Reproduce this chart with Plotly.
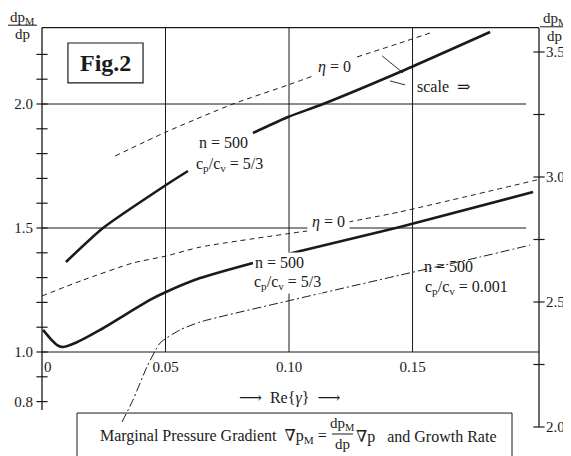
import plotly.graph_objects as go

# ---------------- data ----------------
# Upper pair of curves: read on the RIGHT scale ("scale =>")
x_eta0_upper = [0.0296, 0.0502, 0.0773, 0.0996, 0.1097, None, 0.1275, 0.1449, 0.1583]
r_eta0_upper = [3.084, 3.180, 3.292, 3.368, 3.404, None, 3.480, 3.536, 3.580]

x_n500_upper = [0.0097, 0.0247, 0.0502, 0.0591, None, 0.0854, 0.0996, 0.1138, 0.1449, 0.1814]
r_n500_upper = [2.660, 2.796, 2.968, 3.024, None, 3.176, 3.240, 3.292, 3.420, 3.580]

# Lower curves: read on the LEFT scale
x_eta0_lower = [0.0, 0.0166, 0.0368, 0.0502, 0.0640, 0.1073, None, 0.1239, 0.1449, 0.2004]
y_eta0_lower = [1.226, 1.290, 1.359, 1.387, 1.423, 1.488, None, 1.524, 1.565, 1.694]

x_n500_lower = [0.0004, 0.0032, 0.0061, 0.0085, 0.0134, 0.0235, 0.0437, 0.0502, 0.0640, 0.0854,
                None, 0.0996, 0.1449, 0.1988]
y_n500_lower = [1.089, 1.056, 1.028, 1.020, 1.036, 1.089, 1.210, 1.242, 1.298, 1.359,
                None, 1.395, 1.504, 1.645]

x_n500_cp001 = [0.0324, 0.0368, 0.0425, 0.0478, 0.0559, 0.0640, 0.0996, 0.1449, 0.1773, 0.1976]
y_n500_cp001 = [0.718, 0.806, 0.940, 1.036, 1.089, 1.121, 1.206, 1.310, 1.383, 1.431]

# axes / ticks
x_tick_vals = [0.0, 0.05, 0.10, 0.15]
x_tick_text = ["\u00a0\u00a0\u00a00", "0.05", "0.10", "0.15"]
left_tick_vals = [0.8, 1.0, 1.5, 2.0]
left_tick_text = ["0.8", "1.0", "1.5", "2.0"]
left_minor_ticks = [0.8, 0.9, 1.0, 1.1, 1.2, 1.3, 1.4, 1.5, 1.6, 1.7, 1.8, 1.9, 2.0, 2.1, 2.2]
right_tick_vals = [2.0, 2.5, 3.0, 3.5]
right_tick_text = ["2.0", "2.5", "3.0", "3.5"]
right_minor_ticks = [2.0, 2.25, 2.5, 2.75, 3.0, 3.25, 3.5]
grid_x = [0.05, 0.10, 0.15]
grid_y = [1.5, 2.0]

# ---------------- style ----------------
FONT = "Liberation Serif, DejaVu Serif, DejaVu Sans, serif"
INK = "#1a1a1a"
X_RANGE = [-0.00081, 0.2016]
Y_RANGE = [0.6855, 2.3145]
Y2_RANGE = [1.988, 3.604]
X_RIGHT = 0.2012      # right axis position
Y_TOP = 2.308         # top frame line
Y_BASE = 1.0          # x-axis line
Y_LEFT_END = 0.766    # bottom end of left axis line
X_GRID_END = 0.196

# the page body adds an 8px offset; the figure is sized to fill the rest of the window
BODY_OFFSET = 8

fig = go.Figure()

def curve(x, y, width, dash, axis="y"):
    fig.add_trace(go.Scatter(
        x=x, y=y, yaxis=axis, mode="lines", connectgaps=False,
        line=dict(color=INK, width=width, dash=dash, shape="spline", smoothing=0.6),
        hoverinfo="skip", showlegend=False))

curve(x_eta0_upper, r_eta0_upper, 1.0, "5px,4px", "y2")
curve(x_n500_upper, r_n500_upper, 2.6, "solid", "y2")
curve(x_eta0_lower, y_eta0_lower, 1.0, "5px,4px")
curve(x_n500_lower, y_n500_lower, 2.6, "solid")
curve(x_n500_cp001, y_n500_cp001, 1.0, "9px,3px,2px,3px")

# crossing tick marks
fig.add_trace(go.Scatter(
    x=[0.0] * len(left_minor_ticks), y=left_minor_ticks, mode="markers", cliponaxis=False,
    marker=dict(symbol="line-ew", size=8, line=dict(color=INK, width=1.2)),
    hoverinfo="skip", showlegend=False))
fig.add_trace(go.Scatter(
    x=[X_RIGHT] * len(right_minor_ticks), y=right_minor_ticks, yaxis="y2", mode="markers",
    cliponaxis=False,
    marker=dict(symbol="line-ew", size=8, line=dict(color=INK, width=1.2)),
    hoverinfo="skip", showlegend=False))

shapes = []
def hline(y, x0, x1, w=1.0, yref="y"):
    shapes.append(dict(type="line", xref="x", yref=yref, x0=x0, x1=x1, y0=y, y1=y,
                       line=dict(color=INK, width=w), layer="below"))
def vline(x, y0, y1, w=1.0, yref="y"):
    shapes.append(dict(type="line", xref="x", yref=yref, x0=x, x1=x, y0=y0, y1=y1,
                       line=dict(color=INK, width=w), layer="below"))

hline(Y_TOP, 0.0, X_RIGHT, 1.2)
hline(Y_BASE, 0.0, X_RIGHT, 1.2)
vline(0.0, Y_LEFT_END, Y_TOP, 1.3)
vline(X_RIGHT, right_minor_ticks[0], Y2_RANGE[1] - 0.008, 1.3, "y2")
for gx in grid_x:
    vline(gx, Y_BASE, Y_TOP, 1.0)
for gy in grid_y:
    hline(gy, 0.0, X_GRID_END, 1.0)

# "scale" pointer strokes
shapes.append(dict(type="line", xref="x", yref="y", x0=0.1377, y0=2.194, x1=0.1462, y1=2.125,
                   line=dict(color=INK, width=0.9)))
shapes.append(dict(type="line", xref="x", yref="y", x0=0.1409, y0=2.093, x1=0.1470, y1=2.077,
                   line=dict(color=INK, width=0.9)))

# Fig.2 frame
shapes.append(dict(type="rect", xref="x", yref="y", x0=0.0105, x1=0.0409, y0=2.085, y1=2.246,
                   line=dict(color=INK, width=1.2), fillcolor="white", layer="below"))

# bottom caption box
shapes.append(dict(type="rect", xref="paper", yref="paper", x0=0.074, x1=0.944, y0=-0.12, y1=0.042,
                   line=dict(color=INK, width=1.0), fillcolor="rgba(0,0,0,0)", layer="above"))
# fraction bars for titles / caption
shapes.append(dict(type="line", xref="paper", yref="paper", x0=-0.066, x1=-0.006, y0=1.002, y1=1.002,
                   line=dict(color=INK, width=1.0)))
shapes.append(dict(type="line", xref="paper", yref="paper", x0=1.0, x1=1.062, y0=0.998, y1=0.998,
                   line=dict(color=INK, width=1.0)))
shapes.append(dict(type="line", xref="paper", yref="paper", x0=0.584, x1=0.626, y0=-0.0099, y1=-0.0099,
                   line=dict(color=INK, width=1.0)))

ann = []
def label(text, x, y, size=16, yref="y", xref="x", bg="white", xanchor="center", pad=1, **kw):
    ann.append(dict(text=text, x=x, y=y, xref=xref, yref=yref, showarrow=False,
                    xanchor=xanchor, yanchor="middle",
                    font=dict(family=FONT, size=size, color=INK),
                    bgcolor=bg, borderpad=pad, **kw))

label("<i>η</i> = 0", 0.1186, 2.149, pad=3)
label("scale  ⇒", 0.1625, 2.072, pad=2)
label("n = 500", 0.0733, 1.843, bg="rgba(0,0,0,0)")
label("c<sub>p</sub>/c<sub>v</sub> = 5/3", 0.0760, 1.758, bg="rgba(0,0,0,0)")
label("<i>η</i> = 0", 0.1158, 1.524, pad=4)
label("n = 500", 0.0960, 1.359, pad=1)
label("c<sub>p</sub>/c<sub>v</sub> = 5/3", 0.0992, 1.282, pad=1)
label("n = 500", 0.1644, 1.343, bg="rgba(0,0,0,0)")
label("c<sub>p</sub>/c<sub>v</sub> = 0.001", 0.1720, 1.262, bg="rgba(0,0,0,0)")
label("<b>Fig.2</b>", 0.0257, 2.165, size=24, bg="rgba(0,0,0,0)")
label("⟶  Re{<i>γ</i>}  ⟶", 0.1000, 0.8145, size=16, bg="rgba(0,0,0,0)")

# axis titles (fractions)
label("dp<sub>M</sub>", -0.036, 1.021, xref="paper", yref="paper", size=15, bg="rgba(0,0,0,0)")
label("dp", -0.036, 0.979, xref="paper", yref="paper", size=15, bg="rgba(0,0,0,0)")
label("dp<sub>M</sub>", 1.030, 1.017, xref="paper", yref="paper", size=15, bg="rgba(0,0,0,0)")
label("dp", 1.028, 0.975, xref="paper", yref="paper", size=15, bg="rgba(0,0,0,0)")

# caption
label("Marginal Pressure Gradient  ∇p<sub>M</sub> =", 0.577, -0.0173, xref="paper", yref="paper",
      bg="rgba(0,0,0,0)", xanchor="right")
label("dp<sub>M</sub>", 0.605, 0.0149, xref="paper", yref="paper", size=15, bg="rgba(0,0,0,0)")
label("dp", 0.605, -0.035, xref="paper", yref="paper", size=15, bg="rgba(0,0,0,0)")
label("∇p   and Growth Rate", 0.628, -0.0173, xref="paper", yref="paper",
      bg="rgba(0,0,0,0)", xanchor="left")

fig.update_layout(
    template="none",
    width=571 - BODY_OFFSET, height=456 - BODY_OFFSET,
    margin=dict(l=40 - BODY_OFFSET, r=31, t=26 - BODY_OFFSET, b=26, pad=0, autoexpand=False),
    paper_bgcolor="white", plot_bgcolor="white",
    showlegend=False,
    font=dict(family=FONT, size=15, color=INK),
    xaxis=dict(range=X_RANGE, anchor="free", position=(Y_BASE - Y_RANGE[0]) / (Y_RANGE[1] - Y_RANGE[0]),
               tickvals=x_tick_vals, ticktext=x_tick_text, ticks="", showline=False,
               showgrid=False, zeroline=False, ticklabelstandoff=4, automargin=False,
               tickfont=dict(family=FONT, size=15, color=INK)),
    yaxis=dict(range=Y_RANGE, tickvals=left_tick_vals, ticktext=left_tick_text, ticks="",
               showline=False, showgrid=False, zeroline=False, ticklabelstandoff=6, automargin=False,
               tickfont=dict(family=FONT, size=15, color=INK)),
    yaxis2=dict(range=Y2_RANGE, overlaying="y", side="right", anchor="x",
                tickvals=right_tick_vals, ticktext=right_tick_text, ticks="",
                showline=False, showgrid=False, zeroline=False, ticklabelstandoff=5, automargin=False,
                tickfont=dict(family=FONT, size=15, color=INK)),
    shapes=shapes,
    annotations=ann,
)

fig.write_html("out.html")
